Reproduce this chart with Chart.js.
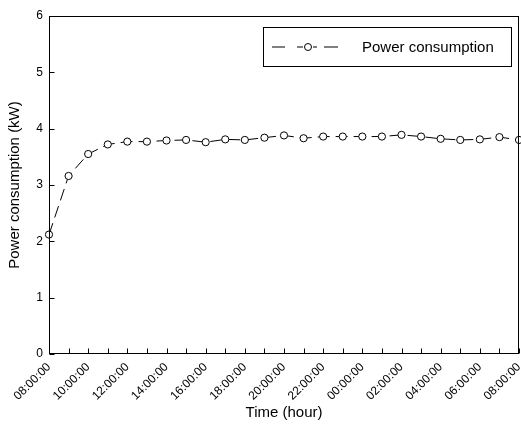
<!DOCTYPE html>
<html>
<head>
<meta charset="utf-8">
<script src="https://cdn.jsdelivr.net/npm/chart.js@4"></script>
<style>
  html, body { margin: 0; padding: 0; background: #fff; }
  canvas { display: block; }
</style>
</head>
<body>
<canvas id="power-chart" width="521" height="430"></canvas>
<script>
// hourly readings, 08:00 to 08:00 next day
const HOURS = [
  '08:00:00', '09:00:00', '10:00:00', '11:00:00', '12:00:00', '13:00:00', '14:00:00',
  '15:00:00', '16:00:00', '17:00:00', '18:00:00', '19:00:00', '20:00:00', '21:00:00',
  '22:00:00', '23:00:00', '00:00:00', '01:00:00', '02:00:00', '03:00:00', '04:00:00',
  '05:00:00', '06:00:00', '07:00:00', '08:00:00',
];

const POWER_KW = [
  2.12, 3.16, 3.55, 3.72, 3.77, 3.77, 3.79, 3.80, 3.76, 3.81, 3.80, 3.84, 3.88,
  3.83, 3.86, 3.86, 3.86, 3.86, 3.89, 3.86, 3.82, 3.80, 3.81, 3.85, 3.80,
];

const Y_TICKS = [0, 1, 2, 3, 4, 5, 6];

const SERIES_LABEL = 'Power consumption';
const FONT = "'Liberation Sans', Arial, sans-serif";

// closed frame + inward tick marks, like the original plot
const frameTicks = {
  id: 'frameTicks',
  afterDraw(chart) {
    const { ctx, chartArea: a, scales: { x, y } } = chart;
    const L = Math.round(a.left) + 0.5;
    const R = Math.round(a.right) - 0.5;
    const T = Math.round(a.top) + 0.5;
    const B = Math.round(a.bottom) - 0.5;
    ctx.save();
    ctx.strokeStyle = '#000';
    ctx.lineWidth = 1;
    ctx.strokeRect(L, T, R - L, B - T);
    ctx.beginPath();
    x.ticks.forEach((_, i) => {
      const px = Math.round(x.getPixelForTick(i)) + 0.5;
      ctx.moveTo(px, B);
      ctx.lineTo(px, B - 5);
    });
    y.ticks.forEach((_, i) => {
      const py = Math.round(y.getPixelForTick(i)) + 0.5;
      ctx.moveTo(L, py);
      ctx.lineTo(L + 5, py);
    });
    ctx.stroke();
    ctx.restore();
  },
};

// boxed legend in the upper right corner of the plot
const boxLegend = {
  id: 'boxLegend',
  afterDraw(chart) {
    const { ctx, chartArea: a } = chart;
    const right = Math.round(a.right) - 8;
    const left = right - 248;
    const top = Math.round(a.top) + 11;
    const h = 39;
    const cy = top + h / 2;
    ctx.save();
    ctx.strokeStyle = '#000';
    ctx.lineWidth = 1;
    ctx.strokeRect(left + 0.5, top + 0.5, right - left, h);

    ctx.beginPath();
    const x0 = left + 9;
    [[0, 13], [25, 31], [41, 45], [52, 66]].forEach(([s, e]) => {
      ctx.moveTo(x0 + s, cy + 0.5);
      ctx.lineTo(x0 + e, cy + 0.5);
    });
    ctx.stroke();
    ctx.beginPath();
    ctx.arc(x0 + 36, cy + 0.5, 3.5, 0, Math.PI * 2);
    ctx.fillStyle = '#fff';
    ctx.fill();
    ctx.stroke();

    ctx.fillStyle = '#000';
    ctx.font = `15px ${FONT}`;
    ctx.textBaseline = 'middle';
    ctx.textAlign = 'left';
    ctx.fillText(SERIES_LABEL, left + 99, cy + 1);
    ctx.restore();
  },
};

Chart.defaults.font.family = FONT;
Chart.defaults.color = '#000';

new Chart(document.getElementById('power-chart'), {
  type: 'line',
  data: {
    labels: HOURS,
    datasets: [{
      label: SERIES_LABEL,
      data: POWER_KW,
      borderColor: '#000',
      borderWidth: 1,
      borderDash: [12, 6],
      tension: 0,
      fill: false,
      pointRadius: 3.6,
      pointBorderWidth: 1,
      pointBackgroundColor: '#fff',
      pointBorderColor: '#000',
    }],
  },
  options: {
    responsive: false,
    animation: false,
    layout: { autoPadding: false, padding: { left: 2, right: 2, top: 16, bottom: 8 } },
    plugins: {
      legend: { display: false },
      tooltip: { enabled: false },
    },
    scales: {
      x: {
        offset: false,
        grid: { display: false, drawTicks: false },
        border: { display: false },
        ticks: {
          autoSkip: false,
          minRotation: 45,
          maxRotation: 45,
          padding: 6,
          font: { size: 12 },
          callback: (value, index) => (index % 2 === 0 ? HOURS[index] : ''),
        },
        title: { display: true, text: 'Time (hour)', font: { size: 15 }, padding: { top: 2, bottom: 0 } },
        afterFit: (scale) => {
          scale.height = 68;
          scale.paddingLeft = 0;
          scale.paddingRight = 0;
        },
      },
      y: {
        min: 0,
        max: 6,
        afterBuildTicks: (scale) => {
          scale.ticks = Y_TICKS.map((v) => ({ value: v }));
        },
        grid: { display: false, drawTicks: false },
        border: { display: false },
        ticks: { padding: 6, font: { size: 12 } },
        title: { display: true, text: 'Power consumption (kW)', font: { size: 15 }, padding: { top: 4, bottom: 2 } },
        afterFit: (scale) => {
          scale.width = 47;
          scale.paddingTop = 0;
          scale.paddingBottom = 0;
        },
      },
    },
  },
  plugins: [frameTicks, boxLegend],
});
</script>
</body>
</html>
